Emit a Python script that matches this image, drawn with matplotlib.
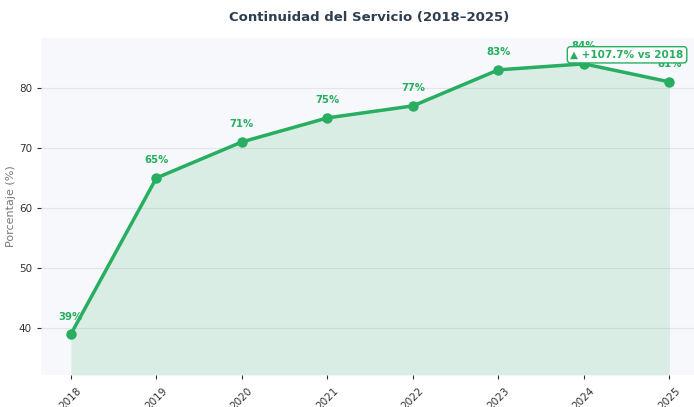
import matplotlib
matplotlib.use("Agg")
import matplotlib.pyplot as plt

# ---- data ----
years = [2018, 2019, 2020, 2021, 2022, 2023, 2024, 2025]
values = [39, 65, 71, 75, 77, 83, 84, 81]
title = "Continuidad del Servicio (2018\u20132025)"
ylabel = "Porcentaje (%)"

green = "#27ae60"

fig = plt.figure(figsize=(6.94, 4.07), dpi=100)
ax = fig.add_axes([0.059, 0.0786, 0.945, 0.828])
ax.set_facecolor("#f7f8fb")

# fill under line down to the bottom of axes
ymin, ymax = 32.2, 88.3
ax.fill_between(years, values, ymin, color=green, alpha=0.14, linewidth=0)
ax.plot(years, values, color=green, linewidth=2.5, marker="o", markersize=6.5, zorder=3)

for x, v in zip(years, values):
    ax.annotate(f"{v}%", (x, v), xytext=(0, 9), textcoords="offset points",
                ha="center", va="bottom", fontsize=7.3, fontweight="bold", color=green)

# change vs first year
change = (values[-1] - values[0]) / values[0] * 100
ax.text(0.98, 0.965, f"\u25b2 +{change:.1f}% vs 2018", transform=ax.transAxes,
        ha="right", va="top", fontsize=7.5, fontweight="bold", color=green,
        bbox=dict(boxstyle="round,pad=0.3", facecolor="white", edgecolor=green, linewidth=1),
        zorder=5)

ax.set_xlim(2017.65, 2025.32)
ax.set_ylim(ymin, ymax)
ax.set_xticks(years)
ax.set_xticklabels([str(y) for y in years], rotation=45, fontsize=7.5, color="#333333")
ax.set_yticks([40, 50, 60, 70, 80])
ax.tick_params(axis="y", labelsize=7.5, colors="#333333", length=3)
ax.tick_params(axis="x", length=3, colors="#333333", pad=5)
ax.grid(axis="y", color="#e3e5ea", linewidth=0.8)
ax.set_axisbelow(True)
for s in ax.spines.values():
    s.set_visible(False)

ax.set_ylabel(ylabel, fontsize=8, color="#777777", labelpad=2)
ax.set_title(title, fontsize=9.5, fontweight="bold", color="#2c3e50", pad=12)

fig.savefig("out.png", dpi=100)
